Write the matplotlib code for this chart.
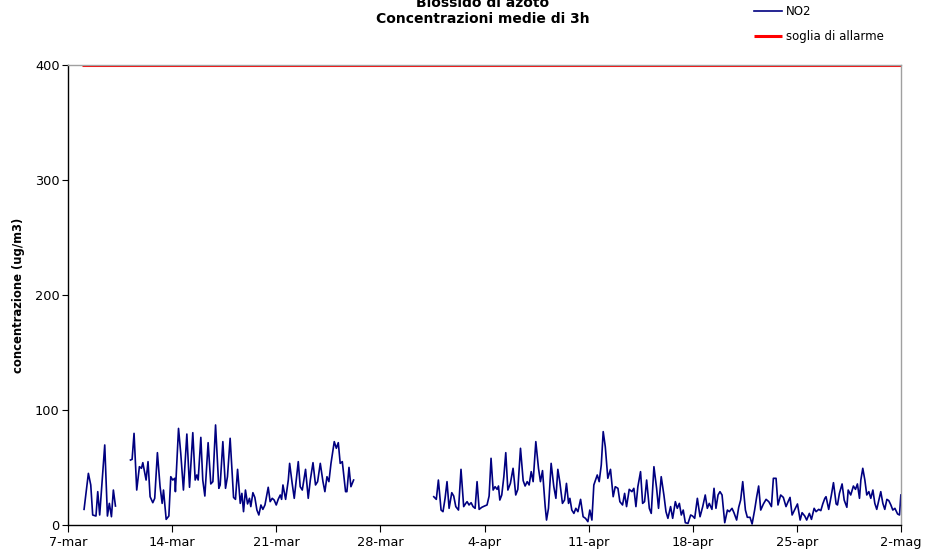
import matplotlib

matplotlib.use("Agg")
import matplotlib.pyplot as plt
import numpy as np

# Days since 7-mar; NaN marks a gap in the measurements.
no2_days = [
    1.08, 1.37, 1.53, 1.66, 1.88, 2.00, 2.13, 2.27, 2.47, 2.65, 2.78, 2.92, 3.05, 3.19,
    np.nan,
    4.20, 4.31, 4.44, 4.62, 4.80, 4.94, 5.03, 5.25, 5.38, 5.52, 5.70, 5.83, 6.01, 6.19,
    6.33, 6.42, 6.60, 6.78, 6.91, 7.04, 7.18, 7.22, 7.43, 7.58, 7.76, 7.99, 8.17, 8.39,
    8.55, 8.66, 8.75, 8.93, 9.06, 9.20, 9.42, 9.60, 9.74, 9.92, 10.14, 10.23, 10.41, 10.59,
    10.72, 10.90, 11.13, 11.26, 11.40, 11.58, 11.69, 11.80, 11.93, 12.07, 12.20, 12.29,
    12.43, 12.56, 12.70, 12.83, 12.97, 13.10, 13.24, 13.46, 13.59, 13.73, 13.86, 14.00,
    14.13, 14.27, 14.36, 14.45, 14.63, 14.81, 14.90, 15.07, 15.21, 15.48, 15.61, 15.75,
    15.97, 16.15, 16.29, 16.47, 16.64, 16.78, 16.96, 17.14, 17.27, 17.41, 17.54, 17.68,
    17.90, 18.04, 18.17, 18.30, 18.44, 18.66, 18.75, 18.89, 19.02, 19.20,
    np.nan,
    24.59, 24.76, 24.90, 25.08, 25.21, 25.35, 25.48, 25.62, 25.80, 25.93, 26.07, 26.25,
    26.42, 26.60, 26.74, 26.83, 26.96, 27.10, 27.23, 27.37, 27.50, 27.64, 27.82, 28.00,
    28.17, 28.31, 28.44, 28.58, 28.71, 28.85, 28.94, 29.03, 29.16, 29.30, 29.43, 29.57,
    29.74, 29.92, 30.10, 30.24, 30.42, 30.60, 30.73, 30.87, 31.00, 31.14, 31.27, 31.45,
    31.63, 31.76, 31.90, 32.08, 32.17, 32.30, 32.48, 32.66, 32.80, 32.93, 33.06, 33.24,
    33.38, 33.51, 33.65, 33.74, 33.87, 34.01, 34.14, 34.28, 34.46, 34.63, 34.79, 34.95,
    35.08, 35.22, 35.35, 35.58, 35.71, 35.85, 35.98, 36.12, 36.29, 36.47, 36.65, 36.79,
    36.97, 37.10, 37.28, 37.42, 37.55, 37.73, 37.91, 38.04, 38.18, 38.31, 38.49, 38.63,
    38.76, 38.90, 39.08, 39.21, 39.39, 39.57, 39.70, 39.88, 40.06, 40.20, 40.33, 40.51,
    40.65, 40.83, 40.96, 41.10, 41.23, 41.36, 41.50, 41.68, 41.86, 41.99, 42.13, 42.31,
    42.49, 42.67, 42.84, 42.98, 43.11, 43.29, 43.43, 43.56, 43.70, 43.83, 43.97, 44.15,
    44.33, 44.46, 44.64, 44.77, 44.95, 45.09, 45.22, 45.36, 45.54, 45.67, 45.85, 45.99,
    46.16, 46.30, 46.43, 46.57, 46.75, 46.93, 47.11, 47.29, 47.42, 47.60, 47.73, 47.91,
    48.09, 48.27, 48.41, 48.54, 48.68, 48.86, 49.04, 49.22, 49.35, 49.53, 49.66, 49.84,
    49.98, 50.16, 50.29, 50.47, 50.61, 50.74, 50.88, 50.96, 51.14, 51.32, 51.46, 51.64,
    51.73, 51.86, 52.04, 52.18, 52.36, 52.45, 52.62, 52.80, 52.94, 53.07, 53.21, 53.30,
    53.43, 53.57, 53.70, 53.84, 53.97, 54.11, 54.24, 54.37, 54.51, 54.64, 54.78, 54.91,
    55.05, 55.18, 55.32, 55.45, 55.59, 55.77, 55.90, 55.99,
]
no2_values = [
    13.6, 44.9, 34.8, 8.7, 7.8, 29.0, 8.7, 33.3, 69.6, 7.8, 18.8, 7.2, 30.4, 16.5,
    np.nan,
    56.5, 57.1, 79.7, 30.4, 50.7, 49.3, 54.2, 39.1, 55.1, 24.6, 19.4, 23.2, 62.9, 33.3,
    18.8, 30.4, 4.9, 7.8, 42.0, 39.1, 40.6, 29.0, 84.0, 62.3, 30.4, 79.1, 32.8, 80.3,
    39.1, 43.5, 39.1, 76.2, 39.1, 25.2, 71.6, 35.7, 37.7, 87.0, 31.9, 34.8, 72.5, 31.9,
    42.0, 75.4, 24.0, 22.3, 48.4, 18.8, 27.5, 11.6, 30.4, 18.3, 23.2, 16.0,
    28.1, 24.0, 13.0, 8.7, 17.4, 13.6, 17.4, 32.8, 20.3, 23.2, 21.7, 17.4,
    22.3, 26.1, 22.3, 34.8, 22.3, 39.1, 53.6, 36.2, 23.2, 55.1, 33.3, 30.4,
    48.4, 23.2, 39.1, 54.2, 34.8, 37.7, 53.6, 37.7, 29.0, 42.0, 37.7, 53.6,
    72.5, 66.7, 71.6, 53.6, 55.1, 29.0, 29.0, 50.1, 33.3, 39.1,
    np.nan,
    24.6, 22.3, 39.1, 13.0, 11.6, 23.2, 37.7, 14.5, 28.1, 25.2, 16.0, 13.0,
    48.4, 16.0, 18.8, 20.3, 17.4, 19.4, 16.0, 14.5, 37.7, 13.6, 15.4, 16.5,
    17.4, 25.2, 58.0, 30.4, 33.3, 31.0, 33.9, 21.7, 26.1, 42.0, 62.9, 30.4,
    36.2, 49.3, 26.1, 31.0, 66.7, 38.6, 33.9, 37.7, 34.8, 46.4, 37.7, 72.5,
    49.3, 37.7, 47.3, 16.0, 4.3, 14.5, 53.6, 33.3, 23.2, 48.4, 37.7, 18.8,
    21.7, 36.2, 18.8, 23.2, 13.0, 10.1, 14.5, 11.6, 22.3, 7.2, 5.8, 2.9,
    13.0, 4.3, 34.8, 43.5, 37.7, 52.2, 81.2, 68.1, 40.6, 48.4, 24.6, 33.3,
    31.9, 20.3, 17.4, 27.5, 16.0, 31.0, 29.0, 31.9, 16.0, 33.3, 46.4, 18.8,
    20.3, 39.1, 14.5, 10.1, 50.7, 31.9, 14.5, 42.0, 26.1, 11.6, 5.8, 16.0,
    5.8, 20.3, 14.5, 18.8, 8.7, 13.0, 2.0, 1.4, 8.7, 7.8, 5.8, 23.2,
    7.2, 16.0, 26.1, 14.5, 18.8, 13.6, 31.9, 14.5, 26.1, 29.0, 26.1, 2.0,
    13.0, 11.6, 14.5, 10.7, 4.3, 15.4, 21.7, 37.7, 13.0, 6.7, 6.7, 0.9,
    13.0, 24.6, 33.9, 13.0, 18.3, 22.3, 20.3, 16.0, 40.6, 40.6, 17.4, 26.1,
    24.0, 16.0, 20.3, 24.0, 8.7, 13.6, 18.3, 4.3, 10.7, 7.8, 4.3, 10.1,
    4.9, 14.5, 11.6, 13.6, 12.5, 18.3, 23.2, 24.6, 13.6, 26.1, 36.8, 18.3,
    17.4, 27.5, 35.7, 21.7, 15.4, 30.4, 26.1, 33.9, 31.0, 35.7, 23.2, 39.1,
    49.3, 39.1, 26.1, 29.0, 23.2, 30.4, 18.8, 13.6, 21.7, 29.0, 18.8, 13.6,
    22.3, 21.2, 17.4, 13.0, 14.5, 9.6, 8.7, 26.1,
]

threshold_days = [0.94, 56.0]
threshold_value = 400

tick_days = [0, 7, 14, 21, 28, 35, 42, 49, 56]
tick_labels = ["7-mar", "14-mar", "21-mar", "28-mar", "4-apr", "11-apr", "18-apr", "25-apr", "2-mag"]
y_ticks = [0, 100, 200, 300, 400]

fig = plt.figure(figsize=(9.42, 5.58), dpi=100)
ax = fig.add_axes([68 / 942, 1 - 525 / 558, 833 / 942, 460 / 558])

ax.plot(no2_days, no2_values, color="#000080", linewidth=1.2, label="NO2")
ax.plot(threshold_days, [threshold_value] * len(threshold_days), color="#ff0000",
        linewidth=2.2, label="soglia di allarme", solid_capstyle="butt")

ax.set_xlim(tick_days[0], tick_days[-1])
ax.set_ylim(0, 400)
ax.set_xticks(tick_days)
ax.set_xticklabels(tick_labels)
ax.set_yticks(y_ticks)
ax.tick_params(axis="both", labelsize=9.3, direction="out", color="black")
ax.tick_params(axis="x", length=5, pad=3)
ax.tick_params(axis="y", length=4, pad=2)

for side in ("left", "bottom"):
    ax.spines[side].set_color("black")
    ax.spines[side].set_linewidth(1.0)
for side in ("top", "right"):
    ax.spines[side].set_color("#a0a0a0")
    ax.spines[side].set_linewidth(1.0)

ax.set_ylabel("concentrazione (ug/m3)", fontsize=8.4, fontweight="bold")
ax.yaxis.set_label_coords(-43 / 833, 0.5)

fig.text(483 / 942, 1 - 3 / 558, "Biossido di azoto", ha="center", va="center",
         fontsize=10, fontweight="bold")
fig.text(483 / 942, 1 - 19 / 558, "Concentrazioni medie di 3h", ha="center", va="center",
         fontsize=10, fontweight="bold")

ax.legend(loc="upper left", bbox_to_anchor=(748 / 942, 1 + 1 / 558),
          bbox_transform=fig.transFigure, frameon=False, fontsize=8.5,
          handlelength=2.4, handletextpad=0.3, labelspacing=1.0, borderpad=0)

fig.savefig("out.png", dpi=100)
